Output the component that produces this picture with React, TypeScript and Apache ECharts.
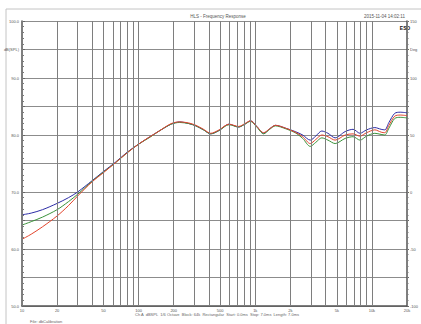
import React, { useEffect, useRef } from "react";
import * as echarts from "echarts";

const freqs = [10, 12, 15, 20, 25, 30, 40, 50, 63, 80, 100, 125, 150, 190, 225, 270, 310, 360, 415, 490, 595, 720, 815, 910, 1030, 1180, 1330, 1490, 1820, 2200, 2550, 2960, 3300, 3720, 4200, 4840, 5900, 6900, 7900, 9000, 10600, 12000, 12900, 14000, 15700, 17500, 20000];
const blueVals = [66.0, 66.3, 66.9, 68.0, 69.0, 70.0, 72.0, 73.6, 75.2, 77.0, 78.4, 79.7, 80.7, 81.9, 82.3, 82.0, 81.6, 80.9, 80.2, 80.8, 81.9, 81.4, 81.9, 82.5, 81.5, 80.3, 81.1, 81.7, 81.2, 80.6, 80.0, 79.1, 79.8, 80.7, 80.3, 79.5, 80.6, 81.0, 80.3, 80.9, 81.3, 81.0, 80.9, 82.2, 83.8, 84.0, 83.9];
const redVals = [61.7, 62.6, 63.9, 65.8, 67.6, 69.3, 71.8, 73.4, 75.1, 76.9, 78.4, 79.7, 80.7, 82.0, 82.3, 82.1, 81.7, 81.0, 80.3, 80.9, 81.9, 81.5, 82.0, 82.5, 81.5, 80.4, 81.1, 81.7, 81.2, 80.5, 79.7, 78.5, 79.2, 80.0, 79.7, 79.1, 80.0, 80.2, 79.8, 80.4, 80.9, 80.5, 80.4, 81.7, 83.3, 83.5, 83.4];
const greenVals = [64.2, 64.8, 65.6, 66.9, 68.3, 69.6, 71.9, 73.5, 75.1, 76.9, 78.4, 79.6, 80.7, 81.9, 82.2, 82.0, 81.6, 80.9, 80.2, 80.8, 81.8, 81.4, 81.9, 82.4, 81.4, 80.2, 81.0, 81.6, 81.1, 80.4, 79.4, 78.0, 78.7, 79.5, 79.1, 78.5, 79.4, 79.7, 79.1, 79.8, 80.3, 80.1, 80.0, 81.2, 82.9, 83.1, 83.0];

const gridFreqs = [10, 20, 30, 40, 50, 60, 70, 80, 90, 100, 200, 300, 400, 500, 600, 700, 800, 900, 1000, 2000, 3000, 4000, 5000, 6000, 7000, 8000, 9000, 10000, 20000];
const labelFreqs = [10, 20, 50, 100, 200, 500, 1000, 2000, 5000, 10000, 20000];
const labelTexts = ["10", "20", "50", "100", "200", "500", "1k", "2k", "5k", "10k", "20k"];

const leftLabels: Record<number, string> = { 95: "dB(SPL)", 90: "90.0", 80: "80.0", 70: "70.0", 60: "60.0", 50: "50.0" };
const rightLabels: Record<number, string> = { 125: "Deg", 100: "100", 50: "50", 0: "0", [-50]: "-50", [-100]: "-100" };
const topLeftValue = 100;
const topLeftLabel = "100.0";
const topRightValue = 150;
const topRightLabel = "150";

export default function App() {
  const ref = useRef<HTMLDivElement>(null);
  useEffect(() => {
    if (!ref.current) return;
    const chart = echarts.init(ref.current, null, { renderer: "svg" });
    const mk = (vals: number[]) => freqs.map((f, i) => [f, vals[i]]);
    const markData: any[] = gridFreqs.map((f) => {
      const li = labelFreqs.indexOf(f);
      return {
        xAxis: f,
        label: li >= 0 ? { show: true, formatter: labelTexts[li] } : { show: false },
      };
    });
    const baseGraphic: any[] = [
      { type: "rect", shape: { x: 6, y: 9, width: 440, height: 340 }, style: { fill: "none", stroke: "#c4c4c4", lineWidth: 1 }, silent: true },
      { type: "text", x: 218, y: 16, style: { text: "HLS - Frequency Response", fontSize: 4.5, fill: "#555", align: "center", verticalAlign: "middle" } },
      { type: "text", x: 405, y: 16, style: { text: "2015-11-04 14:02:11", fontSize: 4.5, fill: "#555", align: "right", verticalAlign: "middle" } },
      { type: "text", x: 405, y: 28, style: { text: "ESD", fontSize: 5, fontWeight: "bold", fill: "#111", align: "center", verticalAlign: "middle" } },
      { type: "text", x: 217, y: 314, style: { text: "Ch A  dBSPL  1/6 Octave  Block: 64k  Rectangular  Start: 0.0ms  Stop: 7.0ms  Length: 7.0ms", fontSize: 4, fill: "#666", align: "center", verticalAlign: "middle" } },
      { type: "text", x: 30, y: 321, style: { text: "File: dbCalibration", fontSize: 4, fill: "#666", align: "left", verticalAlign: "middle" } },
    ];
    chart.setOption({
      animation: false,
      backgroundColor: "#ffffff",
      textStyle: { fontFamily: "Liberation Sans, Arial, sans-serif" },
      grid: { left: 22, right: 11, top: 21, bottom: 18 },
      graphic: baseGraphic,
      xAxis: {
        type: "log",
        logBase: 10,
        min: 10,
        max: 20000,
        axisLine: { show: true, onZero: false, lineStyle: { color: "#555", width: 1.5 } },
        axisTick: { show: false },
        axisLabel: { show: false },
        splitLine: { show: false },
      },
      yAxis: [
        {
          type: "value",
          min: 50,
          max: 100,
          interval: 5,
          position: "left",
          axisLine: { show: true, lineStyle: { color: "#555", width: 1.5 } },
          axisTick: { show: true, inside: true, length: 3, lineStyle: { color: "#666" } },
          minorTick: { show: true, splitNumber: 5, length: 2, lineStyle: { color: "#777" } },
          axisLabel: { fontSize: 4, color: "#555", margin: 3, showMinLabel: true, hideOverlap: false, formatter: (v: number) => leftLabels[Math.round(v)] || "" },
          splitLine: { show: true, lineStyle: { color: "#8c8c8c", width: 1 } },
        },
        {
          type: "value",
          min: -100,
          max: 150,
          interval: 25,
          position: "right",
          axisLine: { show: true, lineStyle: { color: "#555", width: 1.5 } },
          axisTick: { show: true, length: 2, lineStyle: { color: "#666" } },
          minorTick: { show: true, splitNumber: 5, length: 1.5, lineStyle: { color: "#777" } },
          axisLabel: { fontSize: 4, color: "#555", margin: 3, showMinLabel: true, hideOverlap: false, formatter: (v: number) => rightLabels[Math.round(v)] || "" },
          splitLine: { show: false },
        },
      ],
      series: [
        {
          type: "line",
          data: [],
          z: 1,
          silent: true,
          markLine: {
            silent: true,
            symbol: "none",
            lineStyle: { color: "#7e7e7e", width: 1, type: "solid" },
            label: { position: "start", fontSize: 4, color: "#555", distance: 2 },
            emphasis: { disabled: true },
            data: markData,
          },
        },
        { type: "line", name: "Blue", data: mk(blueVals), showSymbol: false, smooth: 0.3, z: 3, lineStyle: { color: "#2c2ca6", width: 1 } },
        { type: "line", name: "Green", data: mk(greenVals), showSymbol: false, smooth: 0.3, z: 3, lineStyle: { color: "#3a923a", width: 1 } },
        { type: "line", name: "Red", data: mk(redVals), showSymbol: false, smooth: 0.3, z: 3, lineStyle: { color: "#e3442c", width: 1 } },
      ],
    });
    const yl = chart.convertToPixel({ yAxisIndex: 0 }, topLeftValue) as number;
    const yr = chart.convertToPixel({ yAxisIndex: 1 }, topRightValue) as number;
    const xl = chart.convertToPixel({ xAxisIndex: 0 }, 10) as number;
    const xr = chart.convertToPixel({ xAxisIndex: 0 }, 20000) as number;
    chart.setOption({
      graphic: [
        ...baseGraphic,
        { type: "text", x: xl - 3, y: yl, z: 100, style: { text: topLeftLabel, fontSize: 4, fill: "#555", align: "right", verticalAlign: "middle" } },
        { type: "text", x: xr + 3, y: yr, z: 100, style: { text: topRightLabel, fontSize: 4, fill: "#555", align: "left", verticalAlign: "middle" } },
      ],
    });
    return () => chart.dispose();
  }, []);
  return <div ref={ref} style={{ position: "fixed", left: 0, top: 0, width: 421, height: 324 }} />;
}
